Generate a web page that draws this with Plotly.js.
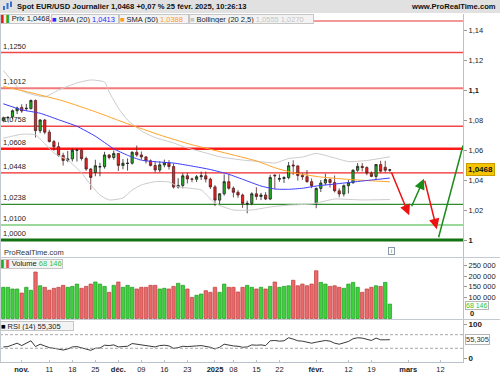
<!DOCTYPE html>
<html><head><meta charset="utf-8">
<script src="https://cdn.plot.ly/plotly-3.0.1.min.js"></script>
<style>html,body{margin:0;padding:0;background:#fff;}#chart{width:500px;height:375px;}</style>
</head><body><div id="chart"></div>
<script>
// ---------- DATA ----------
const dates = ['2024-10-28','2024-10-29','2024-10-30','2024-10-31','2024-11-01','2024-11-04','2024-11-05','2024-11-06','2024-11-07','2024-11-08',
'2024-11-11','2024-11-12','2024-11-13','2024-11-14','2024-11-15','2024-11-18','2024-11-19','2024-11-20','2024-11-21','2024-11-22',
'2024-11-25','2024-11-26','2024-11-27','2024-11-28','2024-11-29','2024-12-02','2024-12-03','2024-12-04','2024-12-05','2024-12-06',
'2024-12-09','2024-12-10','2024-12-11','2024-12-12','2024-12-13','2024-12-16','2024-12-17','2024-12-18','2024-12-19','2024-12-20',
'2024-12-23','2024-12-24','2024-12-26','2024-12-27','2024-12-30','2024-12-31','2025-01-02','2025-01-03','2025-01-06','2025-01-07',
'2025-01-08','2025-01-09','2025-01-10','2025-01-13','2025-01-14','2025-01-15','2025-01-16','2025-01-17','2025-01-20','2025-01-21',
'2025-01-22','2025-01-23','2025-01-24','2025-01-27','2025-01-28','2025-01-29','2025-01-30','2025-01-31','2025-02-03','2025-02-04',
'2025-02-05','2025-02-06','2025-02-07','2025-02-10','2025-02-11','2025-02-12','2025-02-13','2025-02-14','2025-02-17','2025-02-18',
'2025-02-19','2025-02-20','2025-02-21','2025-02-24','2025-02-25'];

const open = [1.0797,1.0814,1.0822,1.0862,1.0884,1.0875,1.0876,1.0930,1.0729,1.0800,
1.0719,1.0656,1.0622,1.0564,1.0530,1.0541,1.0598,1.0599,1.0543,1.0473,
1.0450,1.0487,1.0489,1.0567,1.0550,1.0577,1.0497,1.0510,1.0512,1.0585,
1.0567,1.0554,1.0528,1.0497,1.0467,1.0501,1.0514,1.0490,1.0353,1.0364,
1.0428,1.0407,1.0405,1.0422,1.0428,1.0406,1.0354,1.0266,1.0308,1.0389,
1.0345,1.0318,1.0300,1.0240,1.0244,1.0308,1.0290,1.0300,1.0273,1.0433,
1.0405,1.0410,1.0416,1.0500,1.0494,1.0430,1.0422,1.0389,1.0246,1.0344,
1.0380,1.0403,1.0383,1.0328,1.0307,1.0362,1.0382,1.0465,1.0491,1.0483,
1.0446,1.0424,1.0503,1.0485,1.0465];
const high = [1.0823,1.0826,1.0870,1.0889,1.0905,1.0907,1.0937,1.0937,1.0806,1.0806,
1.0735,1.0667,1.0652,1.0582,1.0594,1.0609,1.0608,1.0609,1.0556,1.0480,
1.0535,1.0515,1.0588,1.0573,1.0597,1.0580,1.0540,1.0544,1.0592,1.0630,
1.0590,1.0560,1.0537,1.0527,1.0524,1.0536,1.0532,1.0510,1.0412,1.0445,
1.0447,1.0416,1.0433,1.0456,1.0456,1.0416,1.0366,1.0312,1.0437,1.0436,
1.0357,1.0332,1.0310,1.0262,1.0318,1.0352,1.0314,1.0319,1.0435,1.0438,
1.0438,1.0425,1.0520,1.0532,1.0497,1.0445,1.0467,1.0411,1.0350,1.0400,
1.0442,1.0410,1.0430,1.0345,1.0370,1.0400,1.0472,1.0513,1.0513,1.0491,
1.0458,1.0506,1.0528,1.0528,1.0474];
const low = [1.0785,1.0790,1.0805,1.0840,1.0848,1.0860,1.0870,1.0683,1.0712,1.0705,
1.0650,1.0595,1.0556,1.0496,1.0519,1.0523,1.0523,1.0530,1.0461,1.0335,
1.0425,1.0425,1.0476,1.0537,1.0536,1.0460,1.0472,1.0463,1.0503,1.0555,
1.0535,1.0510,1.0490,1.0450,1.0452,1.0485,1.0470,1.0343,1.0343,1.0344,
1.0377,1.0385,1.0387,1.0400,1.0384,1.0340,1.0226,1.0240,1.0296,1.0335,
1.0284,1.0281,1.0214,1.0178,1.0232,1.0268,1.0266,1.0266,1.0266,1.0340,
1.0388,1.0380,1.0405,1.0434,1.0396,1.0400,1.0382,1.0346,1.0212,1.0320,
1.0367,1.0350,1.0317,1.0285,1.0290,1.0310,1.0375,1.0454,1.0457,1.0432,
1.0419,1.0405,1.0450,1.0450,1.0455];
const close = [1.0814,1.0817,1.0862,1.0880,1.0860,1.0878,1.0930,1.0729,1.0800,1.0719,
1.0656,1.0622,1.0564,1.0530,1.0541,1.0598,1.0599,1.0543,1.0473,1.0417,
1.0495,1.0489,1.0567,1.0550,1.0577,1.0497,1.0512,1.0512,1.0585,1.0567,
1.0554,1.0528,1.0497,1.0467,1.0501,1.0514,1.0490,1.0353,1.0364,1.0428,
1.0407,1.0405,1.0422,1.0428,1.0406,1.0354,1.0266,1.0308,1.0389,1.0345,
1.0318,1.0300,1.0244,1.0244,1.0308,1.0290,1.0300,1.0273,1.0417,1.0428,
1.0410,1.0416,1.0495,1.0494,1.0430,1.0422,1.0389,1.0362,1.0344,1.0380,
1.0403,1.0383,1.0328,1.0307,1.0362,1.0382,1.0465,1.0491,1.0483,1.0446,
1.0424,1.0503,1.0459,1.0465,1.0468];

const volume = [147700,147700,139700,139700,120700,147700,133500,220000,155000,147700,
134000,143000,147700,157000,147700,152000,163000,143000,152000,163000,
172800,163000,152000,124000,157000,172800,147700,157000,147700,139700,
147700,147700,157000,157000,139700,143000,139700,152000,166600,157000,
139700,100000,110000,116000,131600,124000,147700,124000,163000,147700,
147700,125600,147700,157000,147700,139700,147700,139700,152000,172800,
147700,152000,155000,180900,155000,163000,155000,163000,226000,171000,
163000,152000,155000,147700,143000,163000,171000,147700,124000,139700,
147700,155000,152000,171000,68146];
const volumeUp = [1,1,1,1,0,1,1,0,1,0, 0,0,0,0,1,1,1,0,0,0, 1,1,1,0,1,0,1,1,1,0,
0,0,0,0,1,1,0,0,1,1, 0,0,1,1,0,0,0,1,1,0, 0,0,0,1,1,0,1,0,1,0,
1,1,1,0,0,0,0,0,0,1, 1,0,0,0,1,1,1,1,0,0, 0,1,0,1,1];

const rsi = [34,35,40,45,38,44,52,35,42,37, 32,30,27,25,28,34,35,32,28,24,
30,31,39,38,40,34,35,36,44,42, 42,39,37,34,38,39,37,30,32,36,
35,35,37,38,36,33,28,33,42,39, 37,36,33,34,40,39,40,38,52,53,
51,52,61,57,52,51,48,45,48,51, 53,51,45,42,47,50,58,61,60,56,
53,60,55,55,55.305];

const sma20Idx = [0,4,8,12,16,20,24,27,30,33,37,41,45,49,52,56,59,62,65,68,72,77,80,84];
const sma20 = [1.0908,1.0868,1.0845,1.0802,1.0758,1.0692,1.0608,1.0565,1.0532,1.0522,1.0513,1.0493,1.0470,1.0438,1.0405,1.0360,1.0340,1.0338,1.0345,1.0360,1.0373,1.0390,1.0400,1.0413];
const sma50Idx = [0,6,13,20,27,34,41,48,55,59,63,69,76,84];
const sma50 = [1.1024,1.0982,1.0927,1.0855,1.0775,1.0700,1.0635,1.0582,1.0527,1.0482,1.0448,1.0420,1.0402,1.0388];
const bbUpIdx = [0,4,9,12,16,19,22,23,25,27,30,33,37,40,43,47,52,56,59,62,65,68,72,75,79,84];
const bbUp = [1.1130,1.0995,1.0955,1.1000,1.1047,1.1067,1.1053,1.0987,1.0880,1.0800,1.0727,1.0683,1.0647,1.0613,1.0589,1.0555,1.0533,1.0522,1.0513,1.0543,1.0553,1.0577,1.0547,1.0523,1.0530,1.0555];
const bbLoIdx = [0,4,7,11,14,17,19,21,23,26,28,30,33,36,38,43,46,50,54,58,62,67,72,78,84];
const bbLo = [1.0678,1.0705,1.0700,1.0580,1.0533,1.0447,1.0367,1.0300,1.0267,1.0280,1.0333,1.0367,1.0389,1.0387,1.0355,1.0333,1.0245,1.0200,1.0200,1.0220,1.0233,1.0240,1.0273,1.0267,1.0270];

const levels = [1.146,1.1250,1.1012,1.0758,1.0608,1.0448,1.0238,1.0100,1.0000];

const arrowTailX = [84.2, 88.6, 91.5], arrowTailY = [1.0462, 1.0215, 1.0405];
const arrowTipX  = [88.2, 91.4, 94.2], arrowTipY  = [1.0165, 1.0408, 1.0072];
const arrowUp = [0, 1, 0];
const trendX = [94.6, 99.9], trendY = [1.0018, 1.0630];

const tickIdx  = [4,10,15,20,25,30,35,40,46,50,55,60,68,75,80,88,95];
const tickText = ['<b>nov.</b>','11','18','25','<b>déc.</b>','09','16','23','<b>2025</b>','08','15','22','<b>févr.</b>','12','19','<b>mars</b>','12'];
const priceTicks = [1.14,1.12,1.1,1.08,1.06,1.04,1.02,1];
const volTicks = [100000,150000,200000,250000];
const rsiTicks = [0,100];

// ---------- helpers ----------
const PR = 463, PB = 362;               // plot right / bottom (px)
const px = v => v / PR;
const py = v => (PB - v) / PB;
const fmt4 = v => v.toFixed(4).replace('.', ',');
const fmtVol = v => String(Math.round(v)).replace(/\B(?=(\d{3})+(?!\d))/g, ' ');
const last = a => a[a.length - 1];
const idx = close.map((_, i) => i);
const FONT = 'Liberation Sans, Arial, sans-serif';
const GREEN = '#22b422', RED = '#ee2222';

// ---------- traces ----------
const traces = [
  {type:'scatter', mode:'lines', x:bbUpIdx, y:bbUp, line:{color:'#cbcbcb', width:1, shape:'spline', smoothing:0.5}, hoverinfo:'skip'},
  {type:'scatter', mode:'lines', x:bbLoIdx, y:bbLo, line:{color:'#cbcbcb', width:1, shape:'spline', smoothing:0.5}, hoverinfo:'skip'},
  {type:'scatter', mode:'lines', x:sma50Idx, y:sma50, line:{color:'#ffa42a', width:1, shape:'spline', smoothing:0.5}, hoverinfo:'skip'},
  {type:'scatter', mode:'lines', x:sma20Idx, y:sma20, line:{color:'#3a3aff', width:1, shape:'spline', smoothing:0.5}, hoverinfo:'skip'},
  {type:'candlestick', x:idx, open:open, high:high, low:low, close:close,
   increasing:{line:{color:'#222', width:0.8}, fillcolor:GREEN},
   decreasing:{line:{color:'#552222', width:0.8}, fillcolor:RED},
   whiskerwidth:0, hoverinfo:'skip'},
  {type:'scatter', mode:'lines', x:trendX, y:trendY, line:{color:'#1a8c1a', width:1.5}, hoverinfo:'skip'},
  {type:'bar', x:idx, y:volume, yaxis:'y2', width:0.74,
   marker:{color:volumeUp.map(u => u ? '#3fd03f' : '#e86a6a'),
           line:{color:volumeUp.map(u => u ? '#1e9a1e' : '#c03a3a'), width:0.7}}, hoverinfo:'skip'},
  {type:'scatter', mode:'lines', x:idx, y:rsi, yaxis:'y3', line:{color:'#222', width:0.9}, hoverinfo:'skip'}
];

// ---------- shapes ----------
const shapes = [];
shapes.push({type:'rect', xref:'paper', yref:'paper', x0:0, x1:px(500), y0:py(13), y1:py(0), fillcolor:'#e1e1e1', line:{width:0}, layer:'above'});
[[3,6,10],[6.5,3,9],[10,1.5,7]].forEach(b => shapes.push({type:'rect', xref:'paper', yref:'paper', x0:px(b[0]), x1:px(b[0]+2), y0:py(b[2]), y1:py(b[1]), fillcolor:'#3b6fd0', line:{width:0}, layer:'above'}));
const levelStyle = [['#e83030',1],['#f04848',1.4],['#f27a7a',2],['#f04848',1.4],['#ff1a1a',2.6],['#f02828',1.3],['#2e8b2e',1.3],['#9bd89b',2],['#137313',3]];
levels.forEach((v, i) => shapes.push({type:'line', xref:'paper', yref:'y', x0:0, x1:1, y0:v, y1:v, line:{color:levelStyle[i][0], width:levelStyle[i][1]}, layer:'below'}));
[70, 30].forEach(v => shapes.push({type:'line', xref:'paper', yref:'y3', x0:0, x1:1, y0:v, y1:v, line:{color:'#a8a8a8', width:1, dash:'3px,2px'}}));
[257.5, 319.5].forEach(v => shapes.push({type:'line', xref:'paper', yref:'paper', x0:0, x1:px(500), y0:py(v), y1:py(v), line:{color:'#c3cad2', width:1}}));
shapes.push({type:'line', xref:'paper', yref:'paper', x0:px(0.5), x1:px(0.5), y0:0, y1:py(14), line:{color:'#c3cad2', width:1}});

// ---------- annotations ----------
const ann = [];
const txt = (o) => Object.assign({showarrow:false, xref:'paper', yref:'paper', font:{family:FONT, size:7.5, color:'#222'}}, o);
ann.push(txt({x:px(15), y:py(6.8), xanchor:'left', yanchor:'middle', text:'<b>Spot EUR/USD Journalier ' + fmt4(last(close)) + ' +0,07 % 25 févr. 2025, 10:26:13</b>', font:{family:FONT, size:7.6, color:'#111'}}));
ann.push(txt({x:px(498), y:py(6.8), xanchor:'right', yanchor:'middle', text:'<b>www.ProRealTime.com</b>', font:{family:FONT, size:7.6, color:'#111'}}));
levels.forEach((v, i) => { if (i > 0) ann.push(txt({x:px(2), y:v, yref:'y', xanchor:'left', yanchor:'bottom', text:fmt4(v), borderpad:0, yshift:1})); });
const box = (x, y, w, text) => txt({x:px(x), y:py(y), xanchor:'left', yanchor:'top', width:w, height:8, align:'left', valign:'middle', text:text, bgcolor:'#f3f3f3', bordercolor:'#c6c6c6', borderwidth:1, borderpad:0});
ann.push(box(0, 14, 48, '<span style="color:#e02020">▌</span><span style="color:#22aa22">▌</span>Prix ' + fmt4(last(close))));
ann.push(box(51, 14, 66, '<span style="color:#2a2aff">■</span> SMA (20) <span style="color:#2a2aff">' + fmt4(last(sma20)) + '</span>'));
ann.push(box(119, 14, 68, '<span style="color:#ff9a1a">■</span> SMA (50) <span style="color:#ff9a1a">' + fmt4(last(sma50)) + '</span>'));
ann.push(box(189, 14, 123, '<span style="color:#c8c8c8">■</span> Bollinger (20 2,5) <span style="color:#c4c4c4">' + fmt4(last(bbUp)) + ' ' + fmt4(last(bbLo)) + '</span>'));
ann.push(box(0, 259, 61, '<span style="color:#22aa22">▌</span><span style="color:#e05050">▌</span>Volume <span style="color:#33c433">' + fmtVol(last(volume)) + '</span>'));
ann.push(box(0, 321, 72, '<span style="color:#000">■</span> RSI (14) ' + last(rsi).toFixed(3).replace('.', ',')));
ann.push(txt({x:px(2), y:py(253), xanchor:'left', yanchor:'middle', text:'ProRealTime.com', font:{family:FONT, size:7.5, color:'#333'}}));
ann.push(txt({x:px(391), y:py(251), xanchor:'center', yanchor:'middle', text:'i', width:5, height:6, font:{family:FONT, size:6, color:'#667'}, bordercolor:'#8a97a8', borderwidth:1, borderpad:0, bgcolor:'#fff'}));
// volume zero label (sits just above the bars' base, clear of the RSI 100 label)
ann.push(txt({x:1, y:py(313.5), xanchor:'left', yanchor:'middle', xshift:6, text:'<b>0</b>', font:{family:FONT, size:7.5, color:'#222'}, borderpad:0}));
// right-side current values
ann.push(txt({x:1, y:last(close), yref:'y', xanchor:'left', yanchor:'middle', xshift:3, text:'<b>' + fmt4(last(close)) + '</b>', bgcolor:'#f5c400', bordercolor:'#c99c00', borderwidth:1, borderpad:1, font:{family:FONT, size:8, color:'#111'}}));
ann.push(txt({x:1, y:last(volume), yref:'y2', xanchor:'left', yanchor:'middle', xshift:2, yshift:-1.5, text:fmtVol(last(volume)), bgcolor:'#fff', bordercolor:'#b5b5b5', borderwidth:1, borderpad:0, font:{family:FONT, size:7, color:'#33c433'}}));
ann.push(txt({x:1, y:last(rsi), yref:'y3', xanchor:'left', yanchor:'middle', xshift:2, text:last(rsi).toFixed(3).replace('.', ','), bgcolor:'#fff', bordercolor:'#b5b5b5', borderwidth:1, borderpad:0, font:{family:FONT, size:7.5, color:'#333'}}));
arrowTipX.forEach((x, i) => ann.push({x:x, y:arrowTipY[i], ax:arrowTailX[i], ay:arrowTailY[i], xref:'x', yref:'y', axref:'x', ayref:'y',
  text:'', showarrow:true, arrowhead:2, arrowsize:1.4, arrowwidth:1.5, standoff:0, arrowcolor: arrowUp[i] ? '#1a8c1a' : '#ee1111'}));

// ---------- layout ----------
const tickFont = {family:FONT, size:7.5, color:'#222'};
const layout = {
  width:500, height:375, margin:{l:0, r:500-PR, t:0, b:375-PB},
  paper_bgcolor:'#fff', plot_bgcolor:'#fff', showlegend:false, hovermode:false,
  separators:', ',
  xaxis:{domain:[0,1], anchor:'y3', range:[-0.72, 99.9], tickvals:tickIdx, ticktext:tickText, tickfont:tickFont,
         showgrid:false, zeroline:false, showline:true, linecolor:'#b9c1ca', ticks:'inside', ticklen:2, tickcolor:'#b9c1ca',
         rangeslider:{visible:false}, fixedrange:true},
  yaxis:{domain:[py(257), py(14)], anchor:'x', side:'right', range:[0.98867, 1.15067],
         tickvals:priceTicks, ticktext:priceTicks.map(v => (v === 1.1 || v === 1) ? '<b>' + String(v).replace('.', ',') + '</b>' : String(v).replace('.', ',')),
         tickfont:tickFont, ticks:'outside', ticklen:3, tickcolor:'#999', showgrid:false, zeroline:false, showline:true, linecolor:'#b9c1ca'},
  yaxis2:{domain:[py(319), py(258)], anchor:'x', side:'right', range:[-2400, 286460],
         tickvals:volTicks, ticktext:volTicks.map(fmtVol),
         tickfont:tickFont, ticks:'outside', ticklen:3, tickcolor:'#999', showgrid:false, zeroline:false, showline:true, linecolor:'#b9c1ca'},
  yaxis3:{domain:[0, py(320)], anchor:'x', side:'right', range:[-10.3, 113.2],
         tickvals:rsiTicks, ticktext:rsiTicks.map(v => '<b>' + v + '</b>'),
         tickfont:{family:FONT, size:8, color:'#222'}, ticks:'outside', ticklen:3, tickcolor:'#999', showgrid:false, zeroline:false, showline:true, linecolor:'#b9c1ca'},
  shapes:shapes, annotations:ann,
  font:{family:FONT, size:7.5, color:'#222'}
};

Plotly.newPlot('chart', traces, layout, {displayModeBar:false, staticPlot:true});
</script></body></html>
